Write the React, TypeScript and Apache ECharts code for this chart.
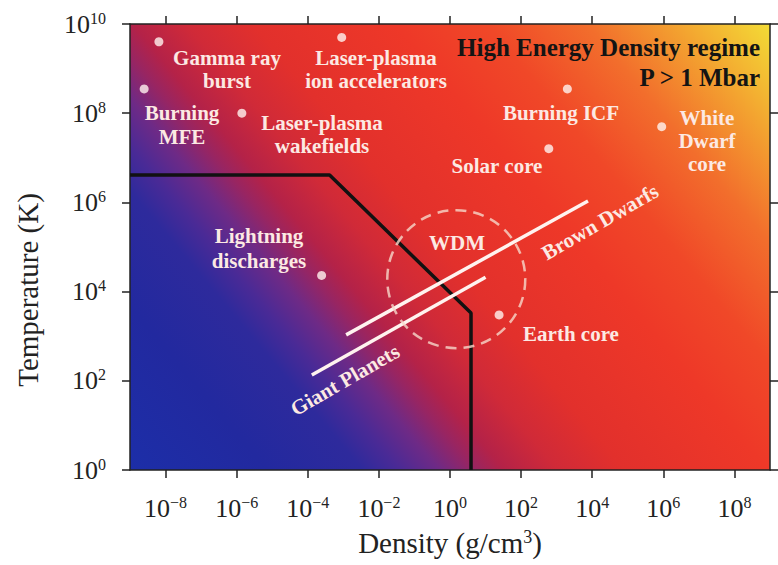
import React, { useEffect, useRef } from 'react';
import * as echarts from 'echarts';

// ---- axis ranges & ticks ----
const densityRange = [1e-9, 1e9];
const temperatureRange = [1, 1e10];
const xTickExponents = [-8, -6, -4, -2, 0, 2, 4, 6, 8];
const yTickExponents = [0, 2, 4, 6, 8, 10];

// ---- labelled points (density g/cm3, temperature K) ----
const pointNames = [
  'Gamma ray burst', 'Burning MFE', 'Laser-plasma wakefields', 'Laser-plasma ion accelerators',
  'Burning ICF', 'Solar core', 'White Dwarf core', 'Lightning discharges', 'Earth core',
];
const pointDensity = [6.5e-9, 2.5e-9, 1.4e-6, 9e-4, 2e3, 600, 9e5, 2.45e-4, 24];
const pointTemperature = [4e9, 3.5e8, 1e8, 5e9, 3.5e8, 1.6e7, 5e7, 2.3e4, 3e3];

// ---- HED boundary (black line) ----
const boundaryDensity = [1e-9, 4.1e-4, 3.9, 3.9];
const boundaryTemperature = [4.1e6, 4.1e6, 3300, 1];

// ---- planetary tracks ----
const brownDwarfDensity = [1.2e-3, 7.6e3];
const brownDwarfTemperature = [1.07e3, 1.07e6];
const giantPlanetDensity = [1.3e-4, 10];
const giantPlanetTemperature = [135, 2.1e4];

// ---- WDM region centre ----
const wdmDensity = [1.5];
const wdmTemperature = [1.9e4];

const zip = (a: number[], b: number[]) => a.map((v, i) => [v, b[i]]);

const SERIF = '"Liberation Serif", "Times New Roman", "DejaVu Serif", serif';
const AXIS_COLOR = '#222';
const LABEL_COLOR = '#fce9e3';

const tickRich = {
  b: { fontSize: 26, fontFamily: SERIF, color: AXIS_COLOR, lineHeight: 28 },
  s: { fontSize: 16, fontFamily: SERIF, color: AXIS_COLOR, lineHeight: 16, verticalAlign: 'top' },
};

const powFormatter = (v: number) => {
  const e = Math.round(Math.log10(v));
  return '{b|10}{s|' + (e < 0 ? '\u2212' + -e : String(e)) + '}';
};

function textEl(text: string, x: number, y: number, extra: any = {}) {
  const { fill, font, lineHeight, align, rotation } = extra;
  return {
    type: 'text',
    x,
    y,
    rotation: rotation || 0,
    z: 100,
    silent: true,
    style: {
      text,
      fill: fill || LABEL_COLOR,
      font: font || 'bold 21px ' + SERIF,
      lineHeight: lineHeight || 23,
      align: align || 'center',
      textAlign: align || 'center',
      verticalAlign: 'middle',
      textVerticalAlign: 'middle',
    },
  };
}

export default function App() {
  const ref = useRef<HTMLDivElement>(null);

  useEffect(() => {
    if (!ref.current) return;
    const chart = echarts.init(ref.current, null, { renderer: 'svg' });
    const xTicks = xTickExponents.map((e) => Math.pow(10, e));
    const yTicks = yTickExponents.map((e) => Math.pow(10, e));

    // diagonal gradient (bottom-left blue -> purple -> red -> top-right yellow)
    const bg = new echarts.graphic.LinearGradient(0, 1, 1.182, 0.3136, [
      { offset: 0, color: '#1c2ea8' },
      { offset: 0.135, color: '#22299f' },
      { offset: 0.23, color: '#2e2a9c' },
      { offset: 0.267, color: '#4a2a96' },
      { offset: 0.306, color: '#6e2a86' },
      { offset: 0.341, color: '#982562' },
      { offset: 0.37, color: '#b42248' },
      { offset: 0.423, color: '#d02a38' },
      { offset: 0.489, color: '#e2302c' },
      { offset: 0.629, color: '#ee3828' },
      { offset: 0.72, color: '#f04828' },
      { offset: 0.819, color: '#f26e2c' },
      { offset: 0.909, color: '#f3a430' },
      { offset: 1, color: '#f3dc36' },
    ]);

    const axisLine = { show: true, onZero: false, lineStyle: { color: AXIS_COLOR, width: 1.5 } };
    const tickStyle = { color: AXIS_COLOR, width: 1.5 };

    const option: any = {
      animation: false,
      backgroundColor: '#ffffff',
      grid: {
        left: 130, right: 8, top: 24, bottom: 95,
        show: true, backgroundColor: bg, borderWidth: 0,
        outerBoundsMode: 'none',
      },
      xAxis: [
        {
          type: 'log', logBase: 10, min: densityRange[0], max: densityRange[1], position: 'bottom',
          axisLine,
          axisTick: { show: true, inside: false, length: 8, lineStyle: tickStyle, customValues: xTicks },
          axisLabel: { customValues: xTicks, formatter: powFormatter, rich: tickRich, margin: 24 },
          splitLine: { show: false },
          minorTick: { show: false },
          name: 'Density (g/cm{s|3})',
          nameLocation: 'middle',
          nameGap: 58,
          nameTextStyle: {
            fontSize: 29, fontFamily: SERIF, color: AXIS_COLOR,
            rich: { s: { fontSize: 18, fontFamily: SERIF, color: AXIS_COLOR, verticalAlign: 'top', lineHeight: 18 } },
          },
        },
        {
          type: 'log', logBase: 10, min: densityRange[0], max: densityRange[1], position: 'top',
          axisLine,
          axisTick: { show: true, inside: false, length: 8, lineStyle: tickStyle, customValues: xTicks },
          axisLabel: { show: false },
          splitLine: { show: false },
        },
      ],
      yAxis: [
        {
          type: 'log', logBase: 10, min: temperatureRange[0], max: temperatureRange[1], position: 'left',
          axisLine,
          axisTick: { show: true, inside: false, length: 8, lineStyle: tickStyle, customValues: yTicks },
          axisLabel: { customValues: yTicks, formatter: powFormatter, rich: tickRich, margin: 24 },
          splitLine: { show: false },
          name: 'Temperature (K)',
          nameLocation: 'middle',
          nameGap: 88,
          nameTextStyle: { fontSize: 29, fontFamily: SERIF, color: AXIS_COLOR, padding: [0, 86, 0, 0] },
        },
        {
          type: 'log', logBase: 10, min: temperatureRange[0], max: temperatureRange[1], position: 'right',
          axisLine,
          axisTick: { show: true, inside: false, length: 8, lineStyle: tickStyle, customValues: yTicks },
          axisLabel: { show: false },
          splitLine: { show: false },
        },
      ],
      series: [
        {
          type: 'line', name: 'HED boundary', data: zip(boundaryDensity, boundaryTemperature),
          showSymbol: false, silent: true, lineStyle: { color: '#111', width: 3.5 }, z: 3,
        },
        {
          type: 'line', name: 'Brown Dwarfs', data: zip(brownDwarfDensity, brownDwarfTemperature),
          showSymbol: false, silent: true, lineStyle: { color: '#fff3ef', width: 3.5 }, z: 4,
        },
        {
          type: 'line', name: 'Giant Planets', data: zip(giantPlanetDensity, giantPlanetTemperature),
          showSymbol: false, silent: true, lineStyle: { color: '#fff3ef', width: 3.5 }, z: 4,
        },
        {
          type: 'scatter', name: 'WDM', data: zip(wdmDensity, wdmTemperature), symbol: 'circle', symbolSize: 138,
          silent: true, z: 5,
          itemStyle: { color: 'rgba(0,0,0,0)', borderColor: '#f6d8cb', borderWidth: 2.5, borderType: [11, 7] },
        },
        {
          type: 'scatter', name: 'points', data: pointDensity.map((d, i) => ({ name: pointNames[i], value: [d, pointTemperature[i]] })),
          symbol: 'circle', symbolSize: 9, silent: true, z: 6,
          itemStyle: { color: '#fff4f0' },
        },
      ],
      graphic: [
        textEl('Gamma ray\nburst', 227, 69),
        textEl('Burning\nMFE', 182, 125, { lineHeight: 24 }),
        textEl('Laser-plasma\nwakefields', 322, 134),
        textEl('Laser-plasma\nion accelerators', 376, 69),
        textEl('Burning ICF', 561, 113),
        textEl('White\nDwarf\ncore', 707, 141, { lineHeight: 23 }),
        textEl('Solar core', 497, 166),
        textEl('Lightning\ndischarges', 259, 248, { lineHeight: 25 }),
        textEl('WDM', 457, 243),
        textEl('Earth core', 571, 334),
        textEl('Brown Dwarfs', 600, 222, { rotation: Math.PI / 6 }),
        textEl('Giant Planets', 345, 380, { rotation: Math.PI / 6 }),
        textEl('High Energy Density regime\nP > 1 Mbar', 760, 62, {
          fill: '#141414', font: 'bold 25px ' + SERIF, lineHeight: 30, align: 'right',
        }),
      ],
    };

    chart.setOption(option);
    return () => chart.dispose();
  }, []);

  return (
    <div
      ref={ref}
      style={{ position: 'fixed', left: 0, top: 0, width: 778, height: 565, background: '#fff' }}
    />
  );
}
